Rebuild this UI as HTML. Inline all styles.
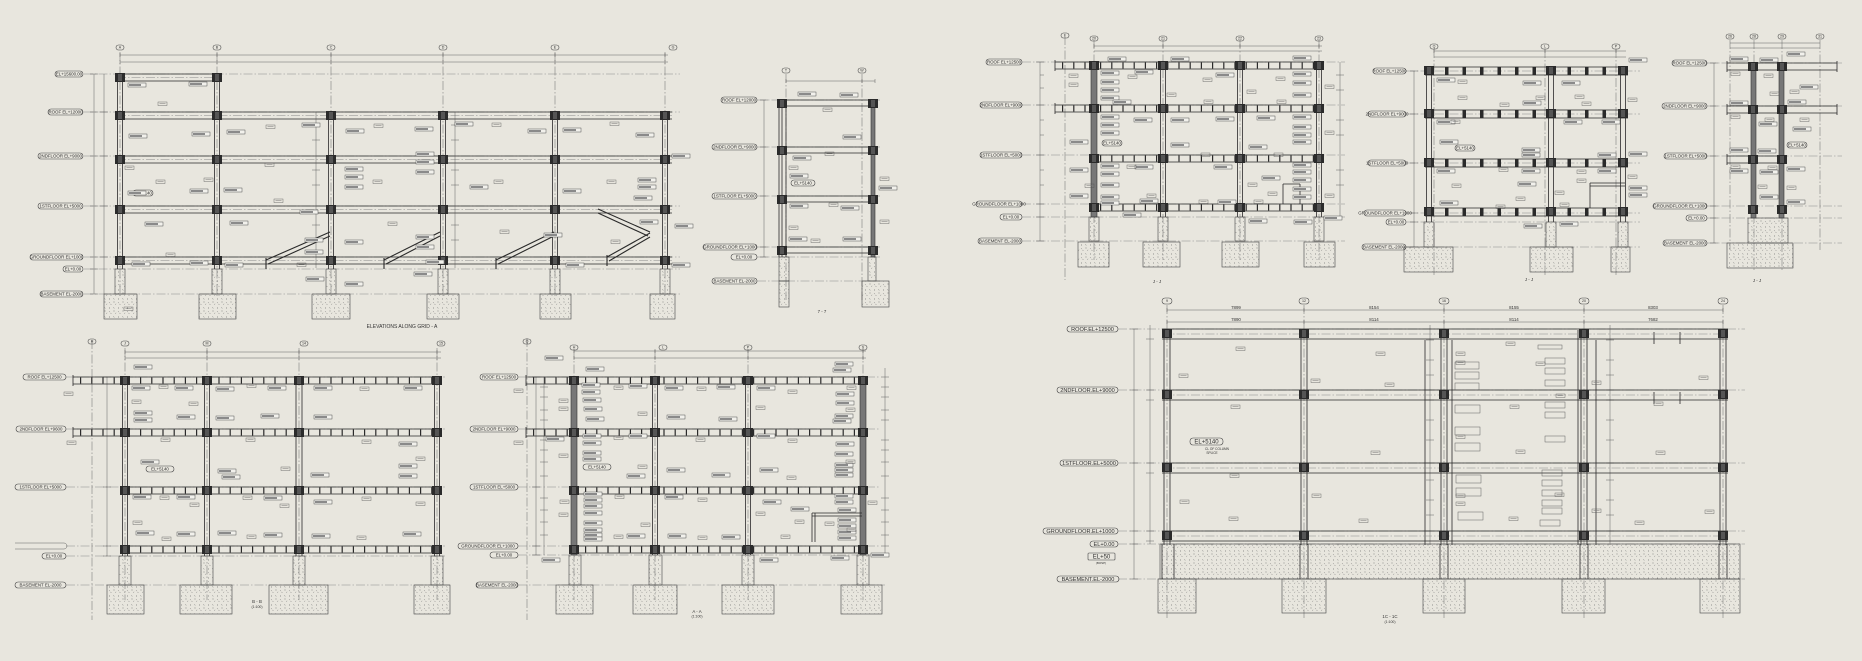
<!DOCTYPE html>
<html><head><meta charset="utf-8"><style>
html,body{margin:0;padding:0;background:#e8e6de;}
svg{display:block}
.b{stroke:#2a2a2a;stroke-width:.8;fill:none}
.bt{stroke:#2a2a2a;stroke-width:1.1;fill:none}
.d{stroke:#6a6a6a;stroke-width:.5;fill:none;stroke-dasharray:9 2 1.5 2}
.f{stroke:#8a8a8a;stroke-width:.5;fill:none;stroke-dasharray:9 2 1.5 2}
.t{stroke:#555;stroke-width:.45;fill:none}
.st{stroke:#2a2a2a;stroke-width:6;fill:none;stroke-dasharray:1.2 10}
.sd{stroke:#2a2a2a;stroke-width:8;fill:none;stroke-dasharray:3.5 14}
.lb rect{fill:none;stroke:#444;stroke-width:.6}
.lb text,.tx{font-family:"Liberation Sans",sans-serif;font-size:4.4px;fill:#333;text-anchor:middle}
.lg text{font-size:5.6px}
.bb rect{fill:none;stroke:#444;stroke-width:.55}
.bb text{font-family:"Liberation Sans",sans-serif;font-size:3.6px;fill:#333;text-anchor:middle}
.cp{fill:url(#conc);stroke:#444;stroke-width:.6}
.gc{fill:#777;stroke:#333;stroke-width:.6}
</style></head><body>
<svg width="1862" height="661" viewBox="0 0 1862 661" xmlns="http://www.w3.org/2000/svg">
<defs>
<pattern id="conc" width="9" height="9" patternUnits="userSpaceOnUse">
<circle cx="1.5" cy="2" r=".45" fill="#666"/><circle cx="6" cy="5" r=".45" fill="#666"/><circle cx="3" cy="7.5" r=".4" fill="#666"/>
<path d="M5 1.5l1.5 .8M1 5l1 1.2M7 7.5l1.2-.6" stroke="#777" stroke-width=".45"/>
</pattern>
<symbol id="jt" overflow="visible"><rect x="0" y="0" width="10" height="9" fill="#2b2b2b"/><rect x="3" y="1" width="4" height="7" fill="#555"/></symbol>
<symbol id="tg" overflow="visible"><rect x="0" y="0" width="18" height="4" fill="#f2f1ec" stroke="#444" stroke-width=".45"/><rect x="1" y="1" width="12" height="2" fill="#8a8a8a"/></symbol>
<symbol id="sm" overflow="visible"><rect x="0" y="0" width="9" height="3.5" fill="none" stroke="#555" stroke-width=".4"/><path d="M1.5 1.75h6" stroke="#777" stroke-width=".5"/></symbol>
</defs>
<rect width="1862" height="661" fill="#e8e6de"/>

<!-- ============ FRAME A (top-left) ============ -->
<g>
<path class="f" d="M84 74H680M84 112H680M84 156H680M84 206H680M84 257H680M84 269H680M84 294H680"/>
<path class="d" d="M120 52V296M217 52V296M331 52V296M443 52V296M555 52V296M665 52V296"/>
<path class="t" d="M120 55H668M120 62H668M120 53v4M217 53v4M331 53v4M443 53v4M555 53v4M665 53v4M120 60v4M217 60v4M331 60v4M443 60v4M555 60v4M665 60v4M94 74V294M90 74h8M90 112h8M90 156h8M90 206h8M90 257h8M90 269h8M90 294h8M104 74V294M100 112h8M100 156h8M100 206h8M100 257h8"/>
<g class="bb"><rect x="116" y="45" width="8" height="5" rx="2.5"/><text x="120" y="48.5">A</text><rect x="213" y="45" width="8" height="5" rx="2.5"/><text x="217" y="48.5">B</text><rect x="327" y="45" width="8" height="5" rx="2.5"/><text x="331" y="48.5">C</text><rect x="439" y="45" width="8" height="5" rx="2.5"/><text x="443" y="48.5">D</text><rect x="551" y="45" width="8" height="5" rx="2.5"/><text x="555" y="48.5">E</text><rect x="669" y="45" width="8" height="5" rx="2.5"/><text x="673" y="48.5">G</text></g>
<path class="b" d="M117 112H672M117 119H672M117 156H672M117 163H672M117 206H672M117 213H672M117 257H672M117 264H672M117 74H221M117 81H221"/>
<path class="f" d="M117 115.5H672M117 159.5H672M117 209.5H672M117 260.5H672M117 77.5H221"/>
<path class="b" d="M117.5 74V269M122.5 74V269M214.5 74V269M219.5 74V269M328.5 112V269M333.5 112V269M440.5 112V269M445.5 112V269M552.5 112V269M557.5 112V269M662.5 112V269M667.5 112V269"/>
<g fill="#2b2b2b"><use href="#jt" x="115" y="73"/><use href="#jt" x="212" y="73"/>
<use href="#jt" x="115" y="111"/><use href="#jt" x="212" y="111"/><use href="#jt" x="326" y="111"/><use href="#jt" x="438" y="111"/><use href="#jt" x="550" y="111"/><use href="#jt" x="660" y="111"/>
<use href="#jt" x="115" y="155"/><use href="#jt" x="212" y="155"/><use href="#jt" x="326" y="155"/><use href="#jt" x="438" y="155"/><use href="#jt" x="550" y="155"/><use href="#jt" x="660" y="155"/>
<use href="#jt" x="115" y="205"/><use href="#jt" x="212" y="205"/><use href="#jt" x="326" y="205"/><use href="#jt" x="438" y="205"/><use href="#jt" x="550" y="205"/><use href="#jt" x="660" y="205"/>
<use href="#jt" x="115" y="256"/><use href="#jt" x="212" y="256"/><use href="#jt" x="326" y="256"/><use href="#jt" x="438" y="256"/><use href="#jt" x="550" y="256"/><use href="#jt" x="660" y="256"/></g>
<!-- stairs -->
<path class="bt" d="M266 260L330 232M268 264L330 236M384 260L440 232M386 264L440 236M496 260L554 232M498 264L554 236M607 257L650 233M609 261L650 237M598 209L650 232M598 213L648 236M266 258v11M384 258v11M496 258v11M607 255v11"/>
<path class="t" d="M316 112V268M455 112V268M312 125h8M312 140h8M312 170h8M312 185h8M312 225h8M312 240h8M451 125h8M451 140h8M451 170h8M451 185h8M451 225h8M451 240h8"/>
<!-- piers & footings -->
<rect class="cp" x="115" y="269" width="10" height="25"/><rect class="cp" x="212" y="269" width="10" height="25"/><rect class="cp" x="326" y="269" width="10" height="25"/><rect class="cp" x="438" y="269" width="10" height="25"/><rect class="cp" x="550" y="269" width="10" height="25"/><rect class="cp" x="660" y="269" width="10" height="25"/>
<rect class="cp" x="104" y="294" width="33" height="25"/><rect class="cp" x="199" y="294" width="37" height="25"/><rect class="cp" x="312" y="294" width="38" height="25"/><rect class="cp" x="427" y="294" width="32" height="25"/><rect class="cp" x="540" y="294" width="31" height="25"/><rect class="cp" x="650" y="294" width="25" height="25"/>
<g class="lb"><rect x="55" y="71" width="28" height="6" rx="3"/><text x="69" y="75.6">EL+15600.00</text>
<rect x="48" y="109" width="35" height="6" rx="3"/><text x="65.5" y="113.6">ROOF EL+12000</text>
<rect x="38" y="153" width="45" height="6" rx="3"/><text x="60.5" y="157.6">2NDFLOOR EL+9000</text>
<rect x="38" y="203" width="45" height="6" rx="3"/><text x="60.5" y="207.6">1STFLOOR EL+5000</text>
<rect x="30" y="254" width="53" height="6" rx="3"/><text x="56.5" y="258.6">GROUNDFLOOR EL+1000</text>
<rect x="63" y="266" width="20" height="6" rx="3"/><text x="73" y="270.6">EL+0.00</text>
<rect x="40" y="291" width="43" height="6" rx="3"/><text x="61.5" y="295.6">BASEMENT EL-2000</text>
<rect x="133" y="190" width="20" height="6" rx="3"/><text x="143" y="194.6">EL+5140</text></g>
<g><use href="#tg" x="128" y="83"/><use href="#tg" x="189" y="82"/><use href="#tg" x="129" y="134"/><use href="#tg" x="192" y="132"/><use href="#tg" x="227" y="130"/><use href="#tg" x="128" y="191"/><use href="#tg" x="190" y="189"/><use href="#tg" x="224" y="188"/><use href="#tg" x="302" y="123"/><use href="#tg" x="346" y="129"/><use href="#tg" x="415" y="127"/><use href="#tg" x="455" y="122"/><use href="#tg" x="528" y="129"/><use href="#tg" x="563" y="128"/><use href="#tg" x="636" y="133"/><use href="#tg" x="672" y="154"/><use href="#tg" x="345" y="167"/><use href="#tg" x="345" y="175"/><use href="#tg" x="345" y="185"/><use href="#tg" x="416" y="152"/><use href="#tg" x="416" y="160"/><use href="#tg" x="416" y="170"/><use href="#tg" x="470" y="185"/><use href="#tg" x="563" y="189"/><use href="#tg" x="634" y="196"/><use href="#tg" x="300" y="210"/><use href="#tg" x="230" y="221"/><use href="#tg" x="145" y="222"/><use href="#tg" x="306" y="277"/><use href="#tg" x="345" y="282"/><use href="#tg" x="414" y="272"/><use href="#tg" x="426" y="260"/><use href="#tg" x="566" y="263"/><use href="#tg" x="672" y="263"/><use href="#tg" x="132" y="262"/><use href="#tg" x="190" y="261"/><use href="#tg" x="225" y="263"/><use href="#tg" x="305" y="250"/><use href="#tg" x="305" y="238"/><use href="#tg" x="345" y="240"/><use href="#tg" x="416" y="235"/><use href="#tg" x="416" y="245"/><use href="#tg" x="544" y="233"/><use href="#tg" x="640" y="220"/><use href="#tg" x="675" y="224"/><use href="#tg" x="638" y="185"/><use href="#tg" x="638" y="178"/></g>
<g><use href="#sm" x="158" y="102"/><use href="#sm" x="266" y="125"/><use href="#sm" x="374" y="124"/><use href="#sm" x="492" y="123"/><use href="#sm" x="610" y="122"/><use href="#sm" x="156" y="180"/><use href="#sm" x="265" y="163"/><use href="#sm" x="373" y="180"/><use href="#sm" x="494" y="180"/><use href="#sm" x="607" y="180"/><use href="#sm" x="274" y="199"/><use href="#sm" x="166" y="253"/><use href="#sm" x="297" y="263"/><use href="#sm" x="388" y="222"/><use href="#sm" x="500" y="230"/><use href="#sm" x="611" y="240"/><use href="#sm" x="125" y="166"/><use href="#sm" x="204" y="178"/><use href="#sm" x="124" y="307"/></g>
<text class="tx" x="402" y="328" style="font-size:5px">ELEVATIONS ALONG GRID - A</text>
</g>

<!-- ============ FRAME top-mid ============ -->
<g>
<path class="f" d="M757 100H880M757 147H880M757 196H880M757 247H880M757 257H880M757 281H880"/>
<path class="d" d="M786 74V300M862 74V300"/>
<path class="t" d="M786 81H875M786 79v4M862 79v4M875 79v4M764 100V257M760 100h8M760 147h8M760 196h8M760 247h8M760 257h8"/>
<g class="bb"><rect x="782" y="68" width="8" height="5" rx="2.5"/><text x="786" y="71.5">T</text><rect x="858" y="68" width="8" height="5" rx="2.5"/><text x="862" y="71.5">W</text></g>
<path class="b" d="M779 100H876M779 106H876M779 147H876M779 153H876M779 196H876M779 202H876M779 247H876M779 253H876M779 99V257M782 99V257M786 99V257"/>
<rect class="gc" x="871" y="100" width="4" height="157"/>
<g><use href="#jt" x="777" y="99"/><use href="#jt" x="868" y="99"/><use href="#jt" x="777" y="146"/><use href="#jt" x="868" y="146"/><use href="#jt" x="777" y="195"/><use href="#jt" x="868" y="195"/><use href="#jt" x="777" y="246"/><use href="#jt" x="868" y="246"/></g>
<rect class="cp" x="779" y="257" width="10" height="24"/><rect class="cp" x="868" y="257" width="8" height="24"/>
<rect class="cp" x="779" y="281" width="10" height="26"/><rect class="cp" x="862" y="281" width="27" height="26"/>
<g class="lb"><rect x="721" y="97" width="36" height="6" rx="3"/><text x="739" y="101.6">ROOF EL+12000</text>
<rect x="712" y="144" width="45" height="6" rx="3"/><text x="734.5" y="148.6">2NDFLOOR EL+9000</text>
<rect x="712" y="193" width="45" height="6" rx="3"/><text x="734.5" y="197.6">1STFLOOR EL+5000</text>
<rect x="703" y="244" width="54" height="6" rx="3"/><text x="730" y="248.6">GROUNDFLOOR EL+1000</text>
<rect x="731" y="254" width="26" height="6" rx="3"/><text x="744" y="258.6">EL+0.00</text>
<rect x="712" y="278" width="45" height="6" rx="3"/><text x="734.5" y="282.6">BASEMENT EL-2000</text>
<rect x="791" y="180" width="24" height="6" rx="3"/><text x="803" y="184.6">EL+5140</text></g>
<g><use href="#tg" x="798" y="92"/><use href="#tg" x="840" y="93"/><use href="#tg" x="843" y="135"/><use href="#tg" x="793" y="156"/><use href="#tg" x="790" y="174"/><use href="#tg" x="790" y="204"/><use href="#tg" x="841" y="206"/><use href="#tg" x="789" y="237"/><use href="#tg" x="843" y="237"/><use href="#tg" x="879" y="186"/></g>
<g><use href="#sm" x="823" y="108"/><use href="#sm" x="825" y="152"/><use href="#sm" x="789" y="166"/><use href="#sm" x="829" y="203"/><use href="#sm" x="789" y="226"/><use href="#sm" x="811" y="239"/><use href="#sm" x="880" y="177"/><use href="#sm" x="880" y="220"/></g>
<text class="tx" x="822" y="313">7 - 7</text>
</g>

<!-- ============ FRAME J (top-right 1) ============ -->
<g>
<path class="f" d="M1022 62H1345M1022 105H1345M1022 155H1345M1022 204H1345M1022 217H1345M1022 241H1345"/>
<path class="d" d="M1065 36V280M1094 40V260M1163 40V260M1240 40V260M1319 40V260"/>
<path class="t" d="M1094 46H1322M1094 51H1322M1094 44v4M1163 44v4M1240 44v4M1319 44v4M1040 62V241M1036 62h8M1036 105h8M1036 155h8M1036 204h8M1036 217h8M1036 241h8M1040 75h4M1040 88h4M1040 120h4M1040 135h4M1040 170h4M1040 185h4M1340 62V217M1336 75h8M1336 90h8M1336 120h8M1336 135h8M1336 170h8M1336 185h8"/>
<g class="bb"><rect x="1061" y="33" width="8" height="5" rx="2.5"/><text x="1065" y="36.5">F</text><rect x="1090" y="36" width="8" height="5" rx="2.5"/><text x="1094" y="39.5">20</text><rect x="1159" y="36" width="8" height="5" rx="2.5"/><text x="1163" y="39.5">21</text><rect x="1236" y="36" width="8" height="5" rx="2.5"/><text x="1240" y="39.5">22</text><rect x="1315" y="36" width="8" height="5" rx="2.5"/><text x="1319" y="39.5">23</text></g>
<path class="b" d="M1090 62H1323M1090 69H1323M1090 105H1323M1090 112H1323M1090 155H1323M1090 162H1323M1090 204H1323M1090 211H1323M1055 62H1090M1055 69H1090M1055 105H1090M1055 112H1090M1055 60v11M1055 103v11M1160.5 62V217M1165.5 62V217M1237.5 62V217M1242.5 62V217M1316.5 62V217M1321.5 62V217"/>
<path class="st" d="M1100 65.5H1316M1100 108.5H1316M1100 158.5H1316M1100 207.5H1316M1062 65.5H1090M1062 108.5H1090"/>
<rect class="gc" x="1091" y="62" width="6" height="155"/>
<g><use href="#jt" x="1089" y="61"/><use href="#jt" x="1158" y="61"/><use href="#jt" x="1235" y="61"/><use href="#jt" x="1314" y="61"/><use href="#jt" x="1089" y="104"/><use href="#jt" x="1158" y="104"/><use href="#jt" x="1235" y="104"/><use href="#jt" x="1314" y="104"/><use href="#jt" x="1089" y="154"/><use href="#jt" x="1158" y="154"/><use href="#jt" x="1235" y="154"/><use href="#jt" x="1314" y="154"/><use href="#jt" x="1089" y="203"/><use href="#jt" x="1158" y="203"/><use href="#jt" x="1235" y="203"/><use href="#jt" x="1314" y="203"/></g>
<path class="b" d="M1283 184H1300M1283 184V204M1300 184V204"/>
<rect class="cp" x="1089" y="217" width="10" height="24"/><rect class="cp" x="1158" y="217" width="10" height="24"/><rect class="cp" x="1235" y="217" width="10" height="24"/><rect class="cp" x="1314" y="217" width="10" height="24"/>
<rect class="cp" x="1078" y="242" width="31" height="25"/><rect class="cp" x="1143" y="242" width="37" height="25"/><rect class="cp" x="1222" y="242" width="37" height="25"/><rect class="cp" x="1304" y="242" width="31" height="25"/>
<g class="lb"><rect x="986" y="59" width="36" height="6" rx="3"/><text x="1004" y="63.6">ROOF EL+12500</text>
<rect x="980" y="102" width="42" height="6" rx="3"/><text x="1001" y="106.6">2NDFLOOR EL+9000</text>
<rect x="980" y="152" width="42" height="6" rx="3"/><text x="1001" y="156.6">1STFLOOR EL+5000</text>
<rect x="976" y="201" width="46" height="6" rx="3"/><text x="999" y="205.6">GROUNDFLOOR EL+1000</text>
<rect x="1000" y="214" width="22" height="6" rx="3"/><text x="1011" y="218.6">EL+0.00</text>
<rect x="978" y="238" width="44" height="6" rx="3"/><text x="1000" y="242.6">BASEMENT EL-2000</text>
<rect x="1102" y="140" width="20" height="6" rx="3"/><text x="1112" y="144.6">EL+5140</text></g>
<g><use href="#tg" x="1108" y="57"/><use href="#tg" x="1171" y="57"/><use href="#tg" x="1293" y="56"/><use href="#tg" x="1101" y="71"/><use href="#tg" x="1101" y="80"/><use href="#tg" x="1101" y="88"/><use href="#tg" x="1101" y="96"/><use href="#tg" x="1135" y="70"/><use href="#tg" x="1216" y="73"/><use href="#tg" x="1293" y="72"/><use href="#tg" x="1293" y="81"/><use href="#tg" x="1293" y="93"/><use href="#tg" x="1113" y="100"/><use href="#tg" x="1101" y="115"/><use href="#tg" x="1101" y="123"/><use href="#tg" x="1134" y="118"/><use href="#tg" x="1101" y="131"/><use href="#tg" x="1171" y="118"/><use href="#tg" x="1216" y="117"/><use href="#tg" x="1257" y="116"/><use href="#tg" x="1293" y="115"/><use href="#tg" x="1293" y="125"/><use href="#tg" x="1293" y="133"/><use href="#tg" x="1293" y="140"/><use href="#tg" x="1070" y="140"/><use href="#tg" x="1171" y="143"/><use href="#tg" x="1249" y="145"/><use href="#tg" x="1101" y="164"/><use href="#tg" x="1101" y="172"/><use href="#tg" x="1135" y="165"/><use href="#tg" x="1214" y="165"/><use href="#tg" x="1293" y="163"/><use href="#tg" x="1293" y="170"/><use href="#tg" x="1293" y="178"/><use href="#tg" x="1070" y="168"/><use href="#tg" x="1101" y="183"/><use href="#tg" x="1070" y="194"/><use href="#tg" x="1101" y="195"/><use href="#tg" x="1101" y="201"/><use href="#tg" x="1140" y="199"/><use href="#tg" x="1218" y="200"/><use href="#tg" x="1262" y="176"/><use href="#tg" x="1293" y="187"/><use href="#tg" x="1293" y="195"/><use href="#tg" x="1123" y="213"/><use href="#tg" x="1249" y="219"/><use href="#tg" x="1294" y="220"/><use href="#tg" x="1324" y="216"/></g>
<g><use href="#sm" x="1069" y="74"/><use href="#sm" x="1128" y="75"/><use href="#sm" x="1203" y="78"/><use href="#sm" x="1276" y="77"/><use href="#sm" x="1069" y="83"/><use href="#sm" x="1167" y="93"/><use href="#sm" x="1247" y="90"/><use href="#sm" x="1204" y="100"/><use href="#sm" x="1277" y="100"/><use href="#sm" x="1325" y="85"/><use href="#sm" x="1325" y="131"/><use href="#sm" x="1127" y="165"/><use href="#sm" x="1201" y="153"/><use href="#sm" x="1274" y="153"/><use href="#sm" x="1147" y="194"/><use href="#sm" x="1248" y="183"/><use href="#sm" x="1268" y="192"/><use href="#sm" x="1325" y="194"/><use href="#sm" x="1085" y="184"/><use href="#sm" x="1199" y="200"/><use href="#sm" x="1254" y="200"/></g>
<text class="tx" x="1157" y="283">J - J</text>
</g>

<!-- ============ FRAME 2 (top-right 2) ============ -->
<g>
<path class="f" d="M1406 71H1640M1406 114H1640M1406 163H1640M1406 213H1640M1406 222H1640M1406 247H1640"/>
<path class="d" d="M1434 49V275M1545 49V275M1616 49V275"/>
<path class="t" d="M1434 51H1626M1434 57H1626M1434 49v4M1545 49v4M1616 49v4M1414 71V247M1410 71h8M1410 114h8M1410 163h8M1410 213h8M1410 222h8M1410 247h8"/>
<g class="bb"><rect x="1430" y="44" width="8" height="5" rx="2.5"/><text x="1434" y="47.5">Q</text><rect x="1541" y="44" width="8" height="5" rx="2.5"/><text x="1545" y="47.5">L</text><rect x="1612" y="44" width="8" height="5" rx="2.5"/><text x="1616" y="47.5">P</text></g>
<path class="b" d="M1425 67H1628M1425 75H1628M1425 110H1628M1425 118H1628M1425 159H1628M1425 167H1628M1425 208H1628M1425 216H1628M1426.5 67V222M1431.5 67V222M1548.5 67V222M1553.5 67V222M1620.5 67V222M1625.5 67V222"/>
<path class="sd" d="M1445 71H1620M1445 114H1620M1445 163H1620M1445 212H1620"/>
<g><use href="#jt" x="1424" y="66"/><use href="#jt" x="1546" y="66"/><use href="#jt" x="1618" y="66"/><use href="#jt" x="1424" y="109"/><use href="#jt" x="1546" y="109"/><use href="#jt" x="1618" y="109"/><use href="#jt" x="1424" y="158"/><use href="#jt" x="1546" y="158"/><use href="#jt" x="1618" y="158"/><use href="#jt" x="1424" y="207"/><use href="#jt" x="1546" y="207"/><use href="#jt" x="1618" y="207"/></g>
<path class="b" d="M1590 183H1625M1590 186H1625M1590 183V208"/>
<rect class="cp" x="1424" y="222" width="10" height="25"/><rect class="cp" x="1546" y="222" width="10" height="25"/><rect class="cp" x="1618" y="222" width="10" height="25"/>
<rect class="cp" x="1404" y="247" width="49" height="25"/><rect class="cp" x="1530" y="247" width="43" height="25"/><rect class="cp" x="1611" y="247" width="19" height="25"/>
<g class="lb"><rect x="1373" y="68" width="33" height="6" rx="3"/><text x="1389.5" y="72.6">ROOF EL+12500</text>
<rect x="1368" y="111" width="38" height="6" rx="3"/><text x="1387" y="115.6">2NDFLOOR EL+9000</text>
<rect x="1368" y="160" width="38" height="6" rx="3"/><text x="1387" y="164.6">1STFLOOR EL+5000</text>
<rect x="1364" y="210" width="42" height="6" rx="3"/><text x="1385" y="214.6">GROUNDFLOOR EL+1000</text>
<rect x="1386" y="219" width="20" height="6" rx="3"/><text x="1396" y="223.6">EL+0.00</text>
<rect x="1362" y="244" width="44" height="6" rx="3"/><text x="1384" y="248.6">BASEMENT EL-2000</text>
<rect x="1455" y="145" width="20" height="6" rx="3"/><text x="1465" y="149.6">EL+5140</text></g>
<g><use href="#tg" x="1437" y="78"/><use href="#tg" x="1523" y="81"/><use href="#tg" x="1562" y="81"/><use href="#tg" x="1629" y="58"/><use href="#tg" x="1523" y="101"/><use href="#tg" x="1437" y="120"/><use href="#tg" x="1564" y="120"/><use href="#tg" x="1602" y="120"/><use href="#tg" x="1440" y="140"/><use href="#tg" x="1522" y="148"/><use href="#tg" x="1522" y="153"/><use href="#tg" x="1598" y="153"/><use href="#tg" x="1629" y="152"/><use href="#tg" x="1437" y="169"/><use href="#tg" x="1522" y="169"/><use href="#tg" x="1598" y="169"/><use href="#tg" x="1440" y="201"/><use href="#tg" x="1518" y="182"/><use href="#tg" x="1629" y="186"/><use href="#tg" x="1629" y="193"/><use href="#tg" x="1524" y="224"/><use href="#tg" x="1560" y="222"/></g>
<g><use href="#sm" x="1458" y="80"/><use href="#sm" x="1458" y="96"/><use href="#sm" x="1536" y="96"/><use href="#sm" x="1575" y="95"/><use href="#sm" x="1500" y="103"/><use href="#sm" x="1582" y="102"/><use href="#sm" x="1451" y="120"/><use href="#sm" x="1628" y="98"/><use href="#sm" x="1499" y="168"/><use href="#sm" x="1577" y="170"/><use href="#sm" x="1452" y="184"/><use href="#sm" x="1555" y="191"/><use href="#sm" x="1577" y="179"/><use href="#sm" x="1516" y="197"/><use href="#sm" x="1560" y="203"/><use href="#sm" x="1628" y="175"/><use href="#sm" x="1496" y="205"/></g>
<text class="tx" x="1529" y="281">J - J</text>
</g>

<!-- ============ FRAME 3 (top-right 3) ============ -->
<g>
<path class="f" d="M1707 63H1842M1707 106H1842M1707 156H1842M1707 206H1842M1707 218H1842M1707 243H1842"/>
<path class="d" d="M1730 40V250M1754 40V270M1782 40V270M1820 40V250"/>
<path class="t" d="M1730 43H1820M1730 48H1820M1714 63V243M1710 63h8M1710 106h8M1710 156h8M1710 206h8M1710 218h8M1710 243h8"/>
<g class="bb"><rect x="1726" y="34" width="8" height="5" rx="2.5"/><text x="1730" y="37.5">26</text><rect x="1750" y="34" width="8" height="5" rx="2.5"/><text x="1754" y="37.5">28</text><rect x="1778" y="34" width="8" height="5" rx="2.5"/><text x="1782" y="37.5">29</text><rect x="1816" y="34" width="8" height="5" rx="2.5"/><text x="1820" y="37.5">31</text></g>
<path class="b" d="M1727 63H1837M1727 70H1837M1727 106H1837M1727 113H1837M1727 156H1787M1727 163H1787M1727 61v11M1727 104v11M1727 154v11M1837 61v11M1837 104v11"/>
<rect class="gc" x="1751" y="63" width="5" height="155"/><rect class="gc" x="1779" y="63" width="5" height="155"/>
<g><use href="#jt" x="1748" y="62"/><use href="#jt" x="1777" y="62"/><use href="#jt" x="1748" y="105"/><use href="#jt" x="1777" y="105"/><use href="#jt" x="1748" y="155"/><use href="#jt" x="1777" y="155"/><use href="#jt" x="1748" y="205"/><use href="#jt" x="1777" y="205"/></g>
<rect class="cp" x="1748" y="218" width="40" height="25"/>
<rect class="cp" x="1727" y="243" width="66" height="25"/>
<g class="lb"><rect x="1672" y="60" width="35" height="6" rx="3"/><text x="1689.5" y="64.6">ROOF EL+12500</text>
<rect x="1662" y="103" width="45" height="6" rx="3"/><text x="1684.5" y="107.6">2NDFLOOR EL+9000</text>
<rect x="1664" y="153" width="43" height="6" rx="3"/><text x="1685.5" y="157.6">1STFLOOR EL+5000</text>
<rect x="1653" y="203" width="54" height="6" rx="3"/><text x="1680" y="207.6">GROUNDFLOOR EL+1000</text>
<rect x="1686" y="215" width="21" height="6" rx="3"/><text x="1696.5" y="219.6">EL+0.00</text>
<rect x="1663" y="240" width="44" height="6" rx="3"/><text x="1685" y="244.6">BASEMENT EL-2000</text>
<rect x="1787" y="142" width="20" height="6" rx="3"/><text x="1797" y="146.6">EL+5140</text></g>
<g><use href="#tg" x="1730" y="57"/><use href="#tg" x="1760" y="58"/><use href="#tg" x="1787" y="52"/><use href="#tg" x="1800" y="85"/><use href="#tg" x="1730" y="101"/><use href="#tg" x="1788" y="100"/><use href="#tg" x="1759" y="122"/><use href="#tg" x="1793" y="127"/><use href="#tg" x="1730" y="148"/><use href="#tg" x="1758" y="149"/><use href="#tg" x="1730" y="169"/><use href="#tg" x="1760" y="170"/><use href="#tg" x="1787" y="167"/><use href="#tg" x="1760" y="195"/><use href="#tg" x="1787" y="200"/></g>
<g><use href="#sm" x="1731" y="72"/><use href="#sm" x="1764" y="74"/><use href="#sm" x="1770" y="92"/><use href="#sm" x="1790" y="90"/><use href="#sm" x="1731" y="115"/><use href="#sm" x="1765" y="118"/><use href="#sm" x="1800" y="118"/><use href="#sm" x="1731" y="165"/><use href="#sm" x="1768" y="166"/><use href="#sm" x="1758" y="185"/><use href="#sm" x="1787" y="186"/></g>
<text class="tx" x="1757" y="282">J - J</text>
</g>

<!-- ============ FRAME B-B (bottom-left) ============ -->
<g>
<path class="f" d="M66 377H445M66 429H445M66 487H445M66 546H445M66 556H445M66 585H450"/>
<path class="d" d="M92 340V620M125 348V600M207 348V600M299 348V600M437 348V600"/>
<path class="t" d="M125 352H441M125 358H441M125 350v4M207 350v4M299 350v4M437 350v4M125 356v4M207 356v4M299 356v4M437 356v4M107 377V556M103 377h8M103 429h8M103 487h8M103 546h8M103 556h8"/>
<g class="bb"><rect x="88" y="339" width="8" height="5" rx="2.5"/><text x="92" y="342.5">H</text><rect x="121" y="341" width="8" height="5" rx="2.5"/><text x="125" y="344.5">J</text><rect x="203" y="341" width="8" height="5" rx="2.5"/><text x="207" y="344.5">M</text><rect x="300" y="341" width="8" height="5" rx="2.5"/><text x="304" y="344.5">14</text><rect x="437" y="341" width="8" height="5" rx="2.5"/><text x="441" y="344.5">15</text></g>
<path class="b" d="M121 377H441M121 384H441M121 429H441M121 436H441M121 487H441M121 494H441M121 546H441M121 553H441M73 377H121M73 384H121M73 429H121M73 436H121M73 375v11M73 427v11M122.5 377V556M127.5 377V556M204.5 377V556M209.5 377V556M296 377V556M302 377V556M434.5 377V556M439.5 377V556"/>
<path class="st" d="M140 380.5H435M140 432.5H435M140 490.5H435M140 549.5H435M80 380.5H120M80 432.5H120"/>
<g><use href="#jt" x="120" y="376"/><use href="#jt" x="202" y="376"/><use href="#jt" x="294" y="376"/><use href="#jt" x="432" y="376"/><use href="#jt" x="120" y="428"/><use href="#jt" x="202" y="428"/><use href="#jt" x="294" y="428"/><use href="#jt" x="432" y="428"/><use href="#jt" x="120" y="486"/><use href="#jt" x="202" y="486"/><use href="#jt" x="294" y="486"/><use href="#jt" x="432" y="486"/><use href="#jt" x="120" y="545"/><use href="#jt" x="202" y="545"/><use href="#jt" x="294" y="545"/><use href="#jt" x="432" y="545"/></g>
<rect class="cp" x="119" y="556" width="12" height="29"/><rect class="cp" x="201" y="556" width="12" height="29"/><rect class="cp" x="293" y="556" width="12" height="29"/><rect class="cp" x="431" y="556" width="12" height="29"/>
<rect class="cp" x="107" y="585" width="37" height="29"/><rect class="cp" x="180" y="585" width="52" height="29"/><rect class="cp" x="269" y="585" width="59" height="29"/><rect class="cp" x="414" y="585" width="36" height="29"/>
<g class="lb"><rect x="23" y="374" width="43" height="6" rx="3"/><text x="44.5" y="378.6">ROOF EL+12500</text>
<rect x="16" y="426" width="50" height="6" rx="3"/><text x="41" y="430.6">2NDFLOOR EL+9600</text>
<rect x="15" y="484" width="51" height="6" rx="3"/><text x="40.5" y="488.6">1STFLOOR EL+5000</text>
<rect x="42" y="553" width="24" height="6" rx="3"/><text x="54" y="557.6">EL+0.00</text>
<rect x="15" y="582" width="51" height="6" rx="3"/><text x="40.5" y="586.6">BASEMENT EL-2000</text>
<rect x="146" y="466" width="28" height="6" rx="3"/><text x="160" y="470.6">EL+5140</text></g>
<path class="t" d="M15 543H64a3 3 0 0 1 0 6H15"/>
<g><use href="#tg" x="134" y="365"/><use href="#tg" x="132" y="386"/><use href="#tg" x="175" y="386"/><use href="#tg" x="216" y="387"/><use href="#tg" x="268" y="386"/><use href="#tg" x="314" y="386"/><use href="#tg" x="404" y="386"/><use href="#tg" x="134" y="411"/><use href="#tg" x="134" y="418"/><use href="#tg" x="177" y="415"/><use href="#tg" x="216" y="416"/><use href="#tg" x="261" y="414"/><use href="#tg" x="314" y="415"/><use href="#tg" x="399" y="442"/><use href="#tg" x="141" y="460"/><use href="#tg" x="218" y="469"/><use href="#tg" x="222" y="475"/><use href="#tg" x="311" y="473"/><use href="#tg" x="399" y="464"/><use href="#tg" x="399" y="474"/><use href="#tg" x="133" y="495"/><use href="#tg" x="177" y="495"/><use href="#tg" x="264" y="496"/><use href="#tg" x="314" y="500"/><use href="#tg" x="136" y="531"/><use href="#tg" x="177" y="532"/><use href="#tg" x="218" y="531"/><use href="#tg" x="264" y="533"/><use href="#tg" x="312" y="534"/><use href="#tg" x="403" y="532"/></g>
<g><use href="#sm" x="64" y="392"/><use href="#sm" x="159" y="385"/><use href="#sm" x="247" y="384"/><use href="#sm" x="360" y="387"/><use href="#sm" x="132" y="400"/><use href="#sm" x="189" y="402"/><use href="#sm" x="67" y="441"/><use href="#sm" x="161" y="438"/><use href="#sm" x="246" y="438"/><use href="#sm" x="362" y="440"/><use href="#sm" x="416" y="457"/><use href="#sm" x="281" y="467"/><use href="#sm" x="160" y="496"/><use href="#sm" x="243" y="496"/><use href="#sm" x="362" y="497"/><use href="#sm" x="190" y="503"/><use href="#sm" x="280" y="504"/><use href="#sm" x="416" y="502"/><use href="#sm" x="133" y="521"/><use href="#sm" x="162" y="537"/><use href="#sm" x="247" y="535"/><use href="#sm" x="357" y="536"/></g>
<text class="tx" x="257" y="603">B - B</text><text class="tx" x="257" y="608" style="font-size:3.5px">(1:100)</text>
</g>

<!-- ============ FRAME A-A (bottom-mid) ============ -->
<g>
<path class="f" d="M518 377H880M518 429H880M518 487H880M518 546H880M518 555H880M518 585H885"/>
<path class="d" d="M527 338V620M574 350V600M655 350V600M748 350V600M863 350V600"/>
<path class="t" d="M574 351H866M574 358H866M574 349v4M655 349v4M748 349v4M863 349v4M574 356v4M655 356v4M748 356v4M863 356v4M536 377V555M532 377h8M532 429h8M532 487h8M532 546h8M532 555h8M544 377V555M540 387h8M540 397h8M540 410h8M540 420h8M540 440h8M540 450h8M540 462h8M540 476h8M540 498h8M540 510h8M540 522h8M540 535h8M885 368V555M881 377h8M881 387h8M881 397h8M881 410h8M881 420h8M881 440h8M881 450h8M881 462h8M881 476h8M881 498h8M881 510h8M881 522h8M881 535h8M881 546h8"/>
<g class="bb"><rect x="523" y="339" width="8" height="5" rx="2.5"/><text x="527" y="342.5">Q</text><rect x="570" y="345" width="8" height="5" rx="2.5"/><text x="574" y="348.5">H</text><rect x="659" y="345" width="8" height="5" rx="2.5"/><text x="663" y="348.5">L</text><rect x="744" y="345" width="8" height="5" rx="2.5"/><text x="748" y="348.5">P</text><rect x="859" y="345" width="8" height="5" rx="2.5"/><text x="863" y="348.5">S</text></g>
<path class="b" d="M570 377H867M570 384H867M570 429H867M570 436H867M570 487H867M570 494H867M570 546H867M570 553H867M526 377H570M526 384H570M526 429H570M526 436H570M526 375v11M526 427v11M652.5 377V555M657.5 377V555M745.5 377V555M750.5 377V555"/>
<rect class="gc" x="571" y="377" width="6" height="178"/><rect class="gc" x="860" y="377" width="6" height="178"/>
<path class="st" d="M585 380.5H860M585 432.5H860M585 490.5H860M585 549.5H860M533 380.5H568M533 432.5H568"/>
<g><use href="#jt" x="569" y="376"/><use href="#jt" x="650" y="376"/><use href="#jt" x="743" y="376"/><use href="#jt" x="858" y="376"/><use href="#jt" x="569" y="428"/><use href="#jt" x="650" y="428"/><use href="#jt" x="743" y="428"/><use href="#jt" x="858" y="428"/><use href="#jt" x="569" y="486"/><use href="#jt" x="650" y="486"/><use href="#jt" x="743" y="486"/><use href="#jt" x="858" y="486"/><use href="#jt" x="569" y="545"/><use href="#jt" x="650" y="545"/><use href="#jt" x="743" y="545"/><use href="#jt" x="858" y="545"/></g>
<path class="b" d="M812 513H862M812 516H862M812 513V542M815 513V542"/>
<rect class="cp" x="569" y="555" width="12" height="30"/><rect class="cp" x="649" y="555" width="13" height="30"/><rect class="cp" x="742" y="555" width="12" height="30"/><rect class="cp" x="857" y="555" width="12" height="30"/>
<rect class="cp" x="556" y="585" width="37" height="29"/><rect class="cp" x="633" y="585" width="44" height="29"/><rect class="cp" x="722" y="585" width="52" height="29"/><rect class="cp" x="841" y="585" width="41" height="29"/>
<g class="lb"><rect x="480" y="374" width="38" height="6" rx="3"/><text x="499" y="378.6">ROOF EL+12500</text>
<rect x="470" y="426" width="48" height="6" rx="3"/><text x="494" y="430.6">2NDFLOOR EL+9000</text>
<rect x="470" y="484" width="48" height="6" rx="3"/><text x="494" y="488.6">1STFLOOR EL+5000</text>
<rect x="458" y="543" width="60" height="6" rx="3"/><text x="488" y="547.6">GROUNDFLOOR EL+1000</text>
<rect x="490" y="552" width="28" height="6" rx="3"/><text x="504" y="556.6">EL+0.00</text>
<rect x="476" y="582" width="42" height="6" rx="3"/><text x="497" y="586.6">BASEMENT EL-2000</text>
<rect x="583" y="464" width="28" height="6" rx="3"/><text x="597" y="468.6">EL+5140</text></g>
<g><use href="#tg" x="545" y="356"/><use href="#tg" x="586" y="367"/><use href="#tg" x="582" y="383"/><use href="#tg" x="582" y="390"/><use href="#tg" x="583" y="398"/><use href="#tg" x="584" y="407"/><use href="#tg" x="629" y="384"/><use href="#tg" x="665" y="386"/><use href="#tg" x="717" y="385"/><use href="#tg" x="757" y="386"/><use href="#tg" x="835" y="362"/><use href="#tg" x="833" y="368"/><use href="#tg" x="836" y="392"/><use href="#tg" x="836" y="401"/><use href="#tg" x="835" y="414"/><use href="#tg" x="833" y="419"/><use href="#tg" x="586" y="417"/><use href="#tg" x="667" y="415"/><use href="#tg" x="719" y="417"/><use href="#tg" x="546" y="437"/><use href="#tg" x="583" y="434"/><use href="#tg" x="583" y="441"/><use href="#tg" x="629" y="434"/><use href="#tg" x="757" y="434"/><use href="#tg" x="583" y="451"/><use href="#tg" x="583" y="457"/><use href="#tg" x="836" y="442"/><use href="#tg" x="835" y="452"/><use href="#tg" x="835" y="463"/><use href="#tg" x="835" y="468"/><use href="#tg" x="835" y="473"/><use href="#tg" x="627" y="474"/><use href="#tg" x="667" y="468"/><use href="#tg" x="712" y="473"/><use href="#tg" x="760" y="468"/><use href="#tg" x="584" y="492"/><use href="#tg" x="584" y="498"/><use href="#tg" x="665" y="495"/><use href="#tg" x="763" y="500"/><use href="#tg" x="584" y="504"/><use href="#tg" x="584" y="511"/><use href="#tg" x="584" y="521"/><use href="#tg" x="584" y="528"/><use href="#tg" x="584" y="533"/><use href="#tg" x="584" y="537"/><use href="#tg" x="835" y="494"/><use href="#tg" x="835" y="500"/><use href="#tg" x="791" y="507"/><use href="#tg" x="838" y="508"/><use href="#tg" x="838" y="518"/><use href="#tg" x="838" y="524"/><use href="#tg" x="838" y="530"/><use href="#tg" x="838" y="536"/><use href="#tg" x="627" y="534"/><use href="#tg" x="668" y="534"/><use href="#tg" x="722" y="535"/><use href="#tg" x="542" y="558"/><use href="#tg" x="760" y="558"/><use href="#tg" x="831" y="556"/><use href="#tg" x="871" y="553"/></g>
<g><use href="#sm" x="514" y="389"/><use href="#sm" x="559" y="399"/><use href="#sm" x="614" y="386"/><use href="#sm" x="697" y="387"/><use href="#sm" x="788" y="390"/><use href="#sm" x="847" y="386"/><use href="#sm" x="559" y="407"/><use href="#sm" x="638" y="412"/><use href="#sm" x="756" y="406"/><use href="#sm" x="846" y="408"/><use href="#sm" x="514" y="441"/><use href="#sm" x="614" y="436"/><use href="#sm" x="696" y="438"/><use href="#sm" x="788" y="439"/><use href="#sm" x="559" y="454"/><use href="#sm" x="638" y="465"/><use href="#sm" x="846" y="460"/><use href="#sm" x="787" y="476"/><use href="#sm" x="615" y="495"/><use href="#sm" x="698" y="498"/><use href="#sm" x="560" y="500"/><use href="#sm" x="559" y="513"/><use href="#sm" x="756" y="512"/><use href="#sm" x="868" y="501"/><use href="#sm" x="795" y="520"/><use href="#sm" x="825" y="522"/><use href="#sm" x="641" y="523"/><use href="#sm" x="614" y="535"/><use href="#sm" x="698" y="536"/><use href="#sm" x="781" y="535"/><use href="#sm" x="847" y="528"/></g>
<text class="tx" x="697" y="613">A - A</text><text class="tx" x="697" y="617.5" style="font-size:3.5px">(1:100)</text>
</g>

<!-- ============ FRAME 1C-1C (bottom-right) ============ -->
<g>
<path class="f" d="M1118 329H1745M1118 390H1745M1118 463H1745M1118 531H1745M1118 544H1745M1118 579H1745"/>
<path class="d" d="M1167 305V618M1304 305V618M1444 305V618M1584 305V618M1723 305V618"/>
<path class="t" d="M1167 310H1723M1167 322H1723M1167 308v4M1304 308v4M1444 308v4M1584 308v4M1723 308v4M1167 320v4M1304 320v4M1444 320v4M1584 320v4M1723 320v4M1134 329V579M1130 329h8M1130 390h8M1130 463h8M1130 531h8M1130 544h8M1130 579h8M1150 325V544M1146 339h8M1146 390h8M1146 400h8M1146 463h8M1146 473h8M1146 531h8M1146 541h8M1430 325V545M1426 340h8M1426 360h8M1426 375h8M1426 390h8M1426 400h8M1426 420h8M1426 440h8M1426 463h8M1426 480h8M1426 500h8M1426 515h8M1426 531h8M1610 325V545M1606 340h8M1606 360h8M1606 375h8M1606 390h8M1606 400h8M1606 420h8M1606 440h8M1606 463h8M1606 480h8M1606 500h8M1606 515h8M1606 531h8"/>
<g class="bb"><rect x="1162" y="298" width="10" height="6" rx="3"/><text x="1167" y="302">9</text><rect x="1299" y="298" width="10" height="6" rx="3"/><text x="1304" y="302">12</text><rect x="1439" y="298" width="10" height="6" rx="3"/><text x="1444" y="302">16</text><rect x="1579" y="298" width="10" height="6" rx="3"/><text x="1584" y="302">20</text><rect x="1718" y="298" width="10" height="6" rx="3"/><text x="1723" y="302">24</text></g>
<text class="tx" x="1236" y="309">7899</text><text class="tx" x="1374" y="309">8154</text><text class="tx" x="1514" y="309">8155</text><text class="tx" x="1653" y="309">8303</text>
<text class="tx" x="1236" y="321">7890</text><text class="tx" x="1374" y="321">8114</text><text class="tx" x="1514" y="321">8114</text><text class="tx" x="1653" y="321">7682</text>
<path class="b" d="M1162 329H1728M1162 339H1728M1162 390H1728M1162 400H1728M1162 463H1728M1162 473H1728M1162 531H1728M1162 541H1728M1164 329V545M1170 329V545M1301 329V545M1307 329V545M1441 329V545M1447 329V545M1581 329V545M1587 329V545M1720 329V545M1726 329V545M1425 340V545M1452 340V545M1596 340V545M1578 330V545"/>
<path class="f" d="M1162 334H1728M1162 395H1728M1162 468H1728M1162 536H1728"/>
<path class="b" d="M1680 332V344M1654 332V344M1680 392V404M1654 392V404"/>
<g><use href="#jt" x="1162" y="329"/><use href="#jt" x="1299" y="329"/><use href="#jt" x="1439" y="329"/><use href="#jt" x="1579" y="329"/><use href="#jt" x="1718" y="329"/><use href="#jt" x="1162" y="390"/><use href="#jt" x="1299" y="390"/><use href="#jt" x="1439" y="390"/><use href="#jt" x="1579" y="390"/><use href="#jt" x="1718" y="390"/><use href="#jt" x="1162" y="463"/><use href="#jt" x="1299" y="463"/><use href="#jt" x="1439" y="463"/><use href="#jt" x="1579" y="463"/><use href="#jt" x="1718" y="463"/><use href="#jt" x="1162" y="531"/><use href="#jt" x="1299" y="531"/><use href="#jt" x="1439" y="531"/><use href="#jt" x="1579" y="531"/><use href="#jt" x="1718" y="531"/></g>
<rect class="cp" x="1160" y="544" width="580" height="35"/>
<path class="b" d="M1162 544V579M1174 544V579M1300 544V579M1308 544V579M1440 544V579M1448 544V579M1580 544V579M1588 544V579M1719 544V579M1727 544V579"/>
<rect class="cp" x="1158" y="579" width="38" height="34"/><rect class="cp" x="1282" y="579" width="44" height="34"/><rect class="cp" x="1423" y="579" width="42" height="34"/><rect class="cp" x="1562" y="579" width="43" height="34"/><rect class="cp" x="1700" y="579" width="40" height="34"/>
<g class="lb lg"><rect x="1067" y="326" width="51" height="6" rx="3"/><text x="1092.5" y="330.9">ROOF.EL+12500</text>
<rect x="1057" y="387" width="61" height="6" rx="3"/><text x="1087.5" y="391.9">2NDFLOOR.EL+9000</text>
<rect x="1060" y="460" width="58" height="6" rx="3"/><text x="1089" y="464.9">1STFLOOR.EL+5000</text>
<rect x="1043" y="528" width="75" height="6" rx="3"/><text x="1080.5" y="532.9">GROUNDFLOOR.EL+1000</text>
<rect x="1090" y="541" width="28" height="6" rx="3"/><text x="1104" y="545.9">EL+0.00</text>
<rect x="1057" y="576" width="62" height="6" rx="3"/><text x="1088" y="580.9">BASEMENT.EL-2000</text></g>
<g class="lb" style="font-size:6px"><rect x="1088" y="553" width="27" height="7" rx="1"/><text x="1101.5" y="558.3" style="font-size:6px">EL+50</text><rect x="1190" y="438" width="33" height="7" rx="3"/><text x="1206.5" y="443.5" style="font-size:6px">EL+5140</text></g>
<text class="tx" x="1101" y="564" style="font-size:3px">(BOSP)</text>
<text class="tx" x="1217" y="450" style="font-size:3.2px">CL OF COLUMN</text><text class="tx" x="1212" y="454" style="font-size:3.2px">SPLICE</text>
<g><use href="#sm" x="1236" y="347"/><use href="#sm" x="1376" y="352"/><use href="#sm" x="1506" y="342"/><use href="#sm" x="1179" y="374"/><use href="#sm" x="1311" y="379"/><use href="#sm" x="1231" y="405"/><use href="#sm" x="1385" y="383"/><use href="#sm" x="1510" y="405"/><use href="#sm" x="1699" y="376"/><use href="#sm" x="1654" y="402"/><use href="#sm" x="1371" y="451"/><use href="#sm" x="1516" y="450"/><use href="#sm" x="1656" y="451"/><use href="#sm" x="1230" y="474"/><use href="#sm" x="1180" y="500"/><use href="#sm" x="1312" y="494"/><use href="#sm" x="1229" y="517"/><use href="#sm" x="1359" y="519"/><use href="#sm" x="1509" y="517"/><use href="#sm" x="1635" y="521"/><use href="#sm" x="1705" y="510"/><use href="#sm" x="1592" y="381"/><use href="#sm" x="1592" y="509"/><use href="#sm" x="1456" y="352"/><use href="#sm" x="1456" y="361"/><use href="#sm" x="1456" y="435"/><use href="#sm" x="1456" y="494"/><use href="#sm" x="1456" y="502"/><use href="#sm" x="1556" y="394"/><use href="#sm" x="1555" y="493"/><use href="#sm" x="1536" y="362"/></g>
<g class="t"><rect x="1455" y="362" width="24" height="7"/><rect x="1455" y="372" width="24" height="7"/><rect x="1455" y="383" width="24" height="7"/><rect x="1455" y="405" width="25" height="8"/><rect x="1455" y="427" width="25" height="8"/><rect x="1455" y="443" width="25" height="8"/><rect x="1456" y="475" width="25" height="8"/><rect x="1456" y="488" width="25" height="8"/><rect x="1458" y="512" width="25" height="8"/><rect x="1545" y="358" width="20" height="6"/><rect x="1545" y="368" width="20" height="6"/><rect x="1545" y="380" width="20" height="6"/><rect x="1545" y="402" width="20" height="6"/><rect x="1545" y="412" width="20" height="6"/><rect x="1545" y="436" width="20" height="6"/><rect x="1542" y="470" width="20" height="6"/><rect x="1542" y="480" width="20" height="6"/><rect x="1542" y="490" width="20" height="6"/><rect x="1542" y="500" width="20" height="6"/><rect x="1542" y="508" width="20" height="6"/><rect x="1540" y="520" width="20" height="6"/><rect x="1538" y="345" width="24" height="4"/></g>
<text class="tx" x="1390" y="618">1C - 1C</text><text class="tx" x="1390" y="623" style="font-size:3.5px">(1:100)</text>
</g>
</svg>
</body></html>
